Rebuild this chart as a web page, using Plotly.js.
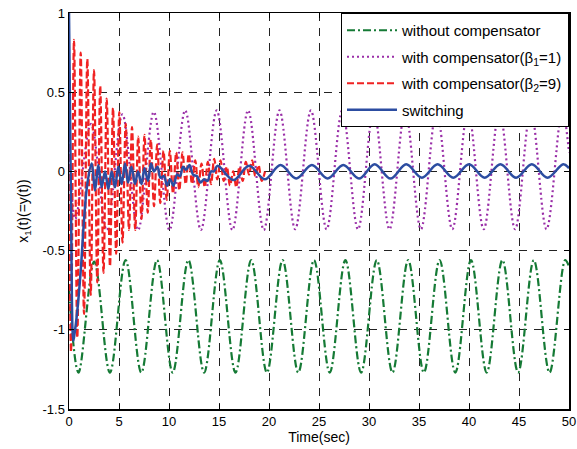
<!DOCTYPE html>
<html><head><meta charset="utf-8">
<script src="https://cdn.plot.ly/plotly-3.0.1.min.js"></script>
<style>html,body{margin:0;padding:0;background:#fff;}#chart{width:577px;height:449px;}</style>
</head><body><div id="chart"></div>
<script>
// ---- data (extrema / turning points) ----
const seriesNames = ['without compensator', 'with compensator(β<sub>1</sub>=1)', 'with compensator(β<sub>2</sub>=9)', 'switching'];

const greenT = [0, 0.95, 2.52, 4.09, 5.66, 7.23, 8.8, 10.37, 11.94, 13.51, 15.08, 16.65, 18.22, 19.79, 21.36, 22.93, 24.5, 26.07, 27.64, 29.21, 30.78, 32.35, 33.92, 35.49, 37.06, 38.63, 40.2, 41.77, 43.34, 44.91, 46.48, 48.05, 49.62, 50];
const greenY = [-0.75, -1.27, -0.57, -1.27, -0.56, -1.27, -0.56, -1.27, -0.56, -1.27, -0.56, -1.27, -0.56, -1.27, -0.56, -1.27, -0.56, -1.27, -0.56, -1.27, -0.56, -1.27, -0.56, -1.27, -0.56, -1.27, -0.56, -1.27, -0.56, -1.27, -0.56, -1.27, -0.56, -0.6];

const purpleT = [0, 0.63, 2.2, 3.77, 5.34, 6.91, 8.48, 10.05, 11.62, 13.19, 14.77, 16.34, 17.91, 19.48, 21.05, 22.62, 24.19, 25.76, 27.33, 28.9, 30.47, 32.05, 33.62, 35.19, 36.76, 38.33, 39.9, 41.47, 43.04, 44.61, 46.18, 47.75, 49.32, 50];
const purpleY = [0.2, -0.3, 0.30, -0.37, 0.36, -0.37, 0.375, -0.37, 0.385, -0.37, 0.385, -0.37, 0.385, -0.37, 0.385, -0.365, 0.385, -0.365, 0.385, -0.365, 0.385, -0.365, 0.385, -0.365, 0.385, -0.365, 0.385, -0.365, 0.385, -0.365, 0.385, -0.365, 0.385, 0.12];

const redT = [0, 0.2, 0.5, 0.83, 1.17, 1.5, 1.83, 2.17, 2.5, 2.83, 3.12, 3.45, 3.77, 4.1, 4.4, 4.72, 5.03, 5.35, 5.67, 6.0, 6.3, 6.62, 6.92, 7.25, 7.55, 7.87, 8.18, 8.5, 8.82, 9.13, 9.45, 9.77, 10.08, 10.4, 10.72, 11.03, 11.35, 11.67, 11.98, 12.3, 12.62, 12.93, 13.25, 13.57, 13.88, 14.2, 14.52, 14.83, 15.15, 15.47, 15.78, 16.1, 16.42, 16.73, 17.05, 17.37, 17.68, 18.0, 18.32, 18.63, 18.95, 19.27, 19.6];
const redY = [0.3, -1.14, 0.83, -1.05, 0.75, -0.9, 0.71, -0.78, 0.64, -0.70, 0.54, -0.64, 0.46, -0.60, 0.40, -0.52, 0.375, -0.45, 0.30, -0.37, 0.28, -0.37, 0.22, -0.30, 0.23, -0.26, 0.20, -0.22, 0.17, -0.20, 0.13, -0.18, 0.13, -0.14, 0.12, -0.12, 0.12, -0.08, 0.11, -0.08, 0.07, -0.10, 0.05, -0.10, 0.06, -0.08, 0.08, -0.05, 0.07, -0.06, 0.03, -0.09, 0.0, -0.10, 0.03, -0.06, 0.06, -0.02, 0.07, -0.03, 0.04, -0.06, 0.0];

const blueT = [0, 0.2, 0.35, 0.43, 0.52, 0.83, 1.17, 1.5, 1.83, 2.27, 2.6, 2.93, 3.27, 3.6, 3.93, 4.27, 4.6, 4.93, 5.27, 5.6, 5.9, 6.25, 6.6, 6.9, 7.25, 7.55, 7.9, 8.2, 8.5, 8.85, 9.15, 9.5, 9.8, 10.1, 10.45, 10.8, 11.1, 11.4, 11.7, 12.05, 12.4, 12.8, 13.15, 13.5, 13.85, 14.2, 14.5, 14.87, 16.44, 18.01, 19.58, 21.15, 22.72, 24.29, 25.86, 27.43, 29.0, 30.57, 32.15, 33.72, 35.29, 36.86, 38.43, 40.0, 41.57, 43.14, 44.71, 46.28, 47.85, 49.42, 50];
const blueY = [1.0, -0.2, -1.0, -1.07, -1.04, -0.88, -0.63, -0.31, -0.08, 0.05, -0.12, 0.04, -0.10, 0.0, -0.11, 0.0, -0.10, 0.03, -0.08, 0.05, -0.07, 0.03, -0.08, 0.0, -0.08, 0.02, -0.06, 0.05, 0.0, 0.03, -0.04, -0.03, -0.09, -0.05, -0.09, -0.02, -0.03, 0.03, 0.01, 0.04, -0.02, -0.03, -0.07, -0.05, -0.06, 0.0, 0.0, 0.035, -0.055, 0.035, -0.05, 0.04, -0.045, 0.04, -0.045, 0.04, -0.045, 0.045, -0.045, 0.045, -0.04, 0.045, -0.04, 0.045, -0.04, 0.045, -0.04, 0.045, -0.04, 0.045, 0.02];

const xTickVals = [0, 5, 10, 15, 20, 25, 30, 35, 40, 45, 50];
const xTickText = ['0', '5', '10', '15', '20', '25', '30', '35', '40', '45', '50'];
const yTickVals = [-1.5, -1, -0.5, 0, 0.5, 1];
const yTickText = ['-1.5', '-1', '-0.5', '0', '0.5', '1'];

// ---- traces ----
function tr(x, y, name, color, dash, width, group) {
  return {x: x, y: y, name: name, type: 'scatter', mode: 'lines', legendgroup: group,
    line: {color: color, dash: dash, width: width, shape: 'spline', smoothing: 1, simplify: false},
    hoverinfo: 'skip'};
}
const data = [
  tr(greenT, greenY, seriesNames[0], '#157a35', '8px,3px,2px,3px', 2.2, 'g1'),
  tr(purpleT, purpleY, seriesNames[1], '#9a2fa8', '2px,3px', 2.2, 'g2'),
  tr(redT, redY, seriesNames[2], '#f02222', '7px,3px', 2.2, 'g3'),
  tr(blueT, blueY, seriesNames[3], '#2c4da1', 'solid', 2.5, 'g4')
];

const axisCommon = {
  ticks: 'inside', ticklen: 5, tickwidth: 1, tickcolor: '#000',
  showline: true, linecolor: '#000', linewidth: 1.5, mirror: 'allticks',
  showgrid: true, gridcolor: '#222', gridwidth: 1, griddash: '8px,7px',
  zeroline: false, fixedrange: true, tickfont: {size: 13, color: '#000'}
};

const layout = {
  width: 577, height: 449,
  margin: {l: 69, r: 8, t: 13, b: 40},
  paper_bgcolor: '#fff', plot_bgcolor: '#fff',
  font: {family: '"Liberation Sans", Arial, Helvetica, sans-serif', size: 13, color: '#000'},
  showlegend: true,
  legend: {x: 1, y: 1, xanchor: 'right', yanchor: 'top', bgcolor: '#fff',
    bordercolor: '#000', borderwidth: 1, font: {size: 15, color: '#000'},
    tracegroupgap: 4, traceorder: 'grouped', itemwidth: 50},
  xaxis: Object.assign({}, axisCommon, {range: [0, 50], tickmode: 'array', tickvals: xTickVals, ticktext: xTickText,
    title: {text: 'Time(sec)', standoff: 4, font: {size: 14}}}),
  yaxis: Object.assign({}, axisCommon, {range: [-1.5, 1], tickmode: 'array', tickvals: yTickVals, ticktext: yTickText,
    title: {text: 'x<sub>1</sub>(t)(=y(t))', standoff: 10, font: {size: 14}}})
};

Plotly.newPlot('chart', data, layout, {staticPlot: true, displayModeBar: false});
</script>
</body></html>
